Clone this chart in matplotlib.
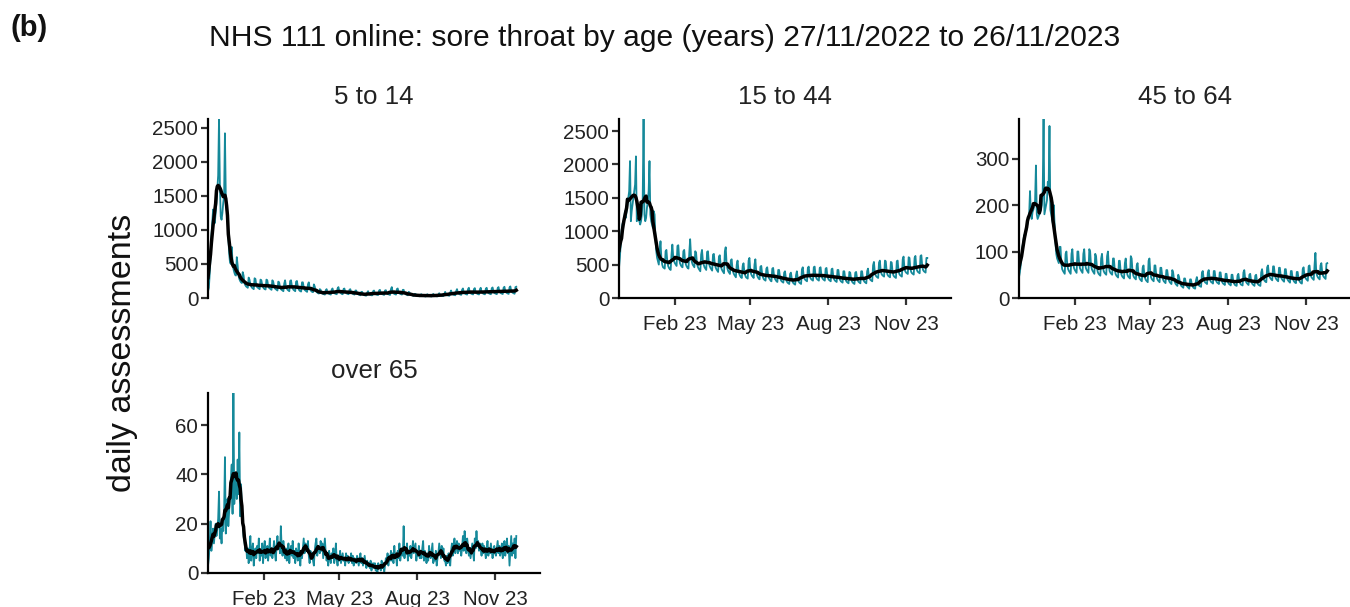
import matplotlib
matplotlib.use("Agg")
import matplotlib.pyplot as plt
import numpy as np
import pandas as pd

plt.rcParams['font.family'] = ['Liberation Sans', 'DejaVu Sans']

start_date = "2022-11-27"
end_date = "2023-11-26"
axis_end_date = "2023-12-24"

panel_titles = ["5 to 14", "15 to 44", "45 to 64", "over 65"]
tick_dates = ["2023-02-01", "2023-05-01", "2023-08-01", "2023-11-01"]
tick_labels = ["Feb 23", "May 23", "Aug 23", "Nov 23"]
yticks_5_14 = [0, 500, 1000, 1500, 2000, 2500]
yticks_15_44 = [0, 500, 1000, 1500, 2000, 2500]
yticks_45_64 = [0, 100, 200, 300]
yticks_over65 = [0, 20, 40, 60]

# daily assessments, one row per week (Sunday..Saturday)
age_5_14 = [
    100, 150, 350, 600, 900, 1100, 1300,
    1250, 1100, 1250, 1400, 1600, 1800, 2630,
    1700, 1200, 1150, 1250, 1400, 1500, 2420,
    1500, 1300, 1200, 900, 650, 520, 500,
    750, 520, 430, 380, 340, 330, 600,
    480, 330, 280, 250, 230, 220, 380,
    330, 220, 190, 170, 160, 150, 300,
    270, 200, 170, 150, 140, 130, 290,
    280, 190, 160, 150, 140, 130, 270,
    260, 190, 160, 140, 130, 125, 270,
    260, 180, 150, 140, 130, 120, 260,
    240, 170, 140, 130, 120, 110, 240,
    230, 160, 130, 120, 110, 100, 210,
    260, 170, 140, 120, 110, 100, 250,
    260, 180, 140, 120, 110, 100, 240,
    250, 170, 130, 110, 100, 95, 230,
    230, 160, 120, 110, 100, 90, 200,
    230, 150, 120, 100, 90, 85, 200,
    170, 110, 90, 80, 70, 65, 130,
    120, 80, 65, 60, 55, 50, 110,
    130, 85, 70, 60, 55, 50, 120,
    140, 90, 75, 65, 60, 55, 140,
    160, 100, 80, 70, 60, 55, 130,
    140, 95, 75, 65, 60, 55, 120,
    130, 85, 70, 60, 55, 50, 110,
    110, 75, 60, 50, 45, 40, 90,
    90, 60, 45, 40, 35, 35, 80,
    100, 65, 50, 45, 40, 40, 100,
    110, 70, 55, 50, 45, 45, 110,
    120, 75, 60, 55, 50, 45, 110,
    115, 75, 60, 55, 50, 45, 130,
    160, 90, 70, 60, 55, 50, 130,
    140, 85, 70, 60, 55, 50, 120,
    120, 75, 60, 50, 45, 40, 90,
    80, 55, 45, 40, 35, 30, 60,
    60, 40, 35, 30, 28, 25, 50,
    55, 38, 32, 28, 25, 22, 45,
    55, 38, 30, 28, 25, 22, 45,
    60, 40, 32, 28, 25, 24, 50,
    70, 45, 36, 32, 30, 28, 60,
    90, 55, 45, 40, 35, 32, 80,
    110, 70, 55, 48, 44, 40, 100,
    130, 80, 65, 55, 50, 46, 120,
    140, 85, 70, 60, 55, 50, 130,
    150, 90, 72, 62, 58, 52, 130,
    145, 88, 70, 62, 56, 52, 125,
    150, 90, 72, 64, 58, 54, 135,
    150, 92, 74, 66, 60, 55, 140,
    155, 95, 76, 68, 62, 56, 145,
    160, 98, 80, 70, 64, 58, 150,
    165, 100, 82, 72, 66, 60, 155,
    170, 105, 85, 75, 68, 62, 160,
    165,
]

age_15_44 = [
    450, 600, 800, 1000, 1100, 1150, 1150,
    1300, 1200, 1300, 1400, 1500, 1600, 2050,
    1150, 1300, 1400, 1500, 1600, 1700, 2120,
    1150, 1250, 1200, 1150, 1100, 1150, 1250,
    1500, 2680, 1250, 1150, 1200, 1350, 1450,
    1600, 2050, 1250, 1150, 1100, 1050, 1300,
    1250, 900, 700, 600, 550, 500, 700,
    850, 600, 500, 460, 450, 440, 700,
    720, 550, 480, 450, 430, 420, 650,
    800, 620, 550, 520, 500, 480, 780,
    790, 600, 520, 490, 470, 460, 700,
    720, 560, 500, 470, 450, 440, 680,
    880, 640, 540, 500, 480, 460, 700,
    680, 520, 470, 440, 420, 400, 650,
    720, 560, 500, 460, 440, 420, 690,
    700, 540, 480, 450, 430, 410, 650,
    660, 520, 460, 430, 410, 390, 620,
    640, 500, 440, 410, 390, 370, 700,
    760, 520, 440, 400, 380, 360, 560,
    580, 440, 380, 350, 330, 310, 500,
    560, 420, 360, 330, 310, 300, 480,
    520, 400, 340, 310, 300, 290, 560,
    600, 420, 360, 330, 320, 300, 500,
    580, 400, 340, 310, 290, 280, 470,
    480, 360, 310, 280, 270, 260, 440,
    460, 350, 300, 280, 260, 250, 440,
    450, 340, 290, 270, 250, 240, 420,
    420, 320, 270, 250, 240, 230, 380,
    400, 300, 250, 230, 220, 210, 360,
    380, 290, 240, 220, 210, 200, 340,
    400, 300, 250, 230, 220, 210, 430,
    460, 330, 290, 270, 260, 250, 450,
    470, 340, 300, 280, 270, 260, 460,
    470, 340, 300, 280, 270, 260, 450,
    460, 340, 300, 280, 270, 260, 440,
    450, 330, 290, 270, 260, 250, 430,
    440, 320, 280, 260, 250, 240, 420,
    420, 310, 270, 250, 240, 230, 400,
    400, 300, 260, 240, 230, 220, 390,
    380, 290, 250, 230, 220, 210, 380,
    390, 300, 260, 240, 230, 220, 400,
    400, 300, 260, 240, 230, 220, 400,
    440, 330, 290, 270, 260, 250, 490,
    540, 390, 340, 320, 310, 300, 530,
    560, 410, 360, 340, 330, 320, 560,
    550, 400, 350, 330, 320, 310, 540,
    530, 390, 340, 320, 310, 300, 550,
    560, 410, 360, 340, 330, 320, 580,
    620, 450, 400, 380, 370, 360, 610,
    600, 440, 390, 370, 360, 350, 600,
    630, 460, 410, 390, 380, 370, 630,
    640, 480, 420, 400, 390, 380, 600,
    600,
]

age_45_64 = [
    45, 55, 70, 90, 110, 120, 135,
    130, 140, 150, 160, 170, 180, 230,
    180, 170, 185, 190, 200, 210, 285,
    180, 170, 175, 180, 185, 190, 200,
    230, 385, 180, 190, 200, 210, 250,
    240, 370, 190, 180, 170, 160, 200,
    160, 120, 95, 85, 80, 75, 110,
    110, 75, 62, 58, 55, 52, 95,
    100, 72, 62, 58, 55, 52, 95,
    105, 75, 64, 60, 57, 54, 100,
    100, 74, 64, 60, 57, 54, 95,
    105, 75, 64, 60, 57, 54, 105,
    100, 72, 62, 58, 55, 52, 95,
    90, 65, 56, 52, 50, 48, 85,
    95, 68, 58, 54, 52, 50, 90,
    100, 70, 58, 54, 52, 50, 85,
    85, 62, 52, 48, 46, 44, 80,
    80, 58, 50, 46, 44, 42, 75,
    85, 60, 50, 46, 44, 42, 90,
    85, 58, 48, 44, 42, 40, 70,
    75, 52, 44, 40, 38, 36, 65,
    70, 50, 42, 38, 36, 34, 80,
    85, 55, 44, 40, 38, 36, 70,
    70, 50, 42, 38, 36, 34, 65,
    65, 48, 40, 36, 34, 32, 60,
    60, 45, 38, 34, 32, 30, 60,
    55, 40, 34, 30, 28, 26, 50,
    45, 34, 28, 25, 24, 22, 42,
    42, 32, 26, 24, 22, 20, 40,
    40, 30, 25, 22, 21, 20, 38,
    45, 34, 28, 26, 25, 24, 55,
    58, 42, 36, 33, 32, 30, 55,
    60, 44, 37, 34, 33, 31, 58,
    58, 42, 36, 33, 32, 30, 55,
    55, 40, 34, 31, 30, 28, 52,
    52, 38, 33, 30, 29, 27, 50,
    50, 36, 31, 28, 27, 26, 48,
    52, 38, 32, 29, 28, 27, 55,
    60, 42, 35, 32, 30, 28, 50,
    52, 38, 32, 29, 28, 26, 48,
    50, 36, 30, 28, 27, 26, 55,
    62, 46, 40, 37, 35, 34, 66,
    70, 52, 45, 42, 40, 38, 68,
    68, 50, 43, 40, 38, 36, 65,
    65, 48, 42, 39, 37, 35, 62,
    62, 46, 40, 37, 35, 33, 58,
    58, 43, 38, 35, 33, 32, 56,
    56, 42, 37, 34, 32, 31, 62,
    66, 50, 44, 41, 39, 37, 68,
    70, 52, 46, 43, 41, 39, 72,
    97, 55, 48, 44, 42, 40, 70,
    75, 55, 48, 45, 43, 41, 74,
    75,
]

age_over_65 = [
    3, 6, 12, 21, 9, 14, 18,
    12, 16, 20, 15, 18, 22, 33,
    14, 18, 12, 20, 17, 24, 47,
    16, 24, 30, 19, 25, 33, 38,
    44, 24, 73, 28, 35, 40, 30,
    46, 32, 57, 23, 36, 26, 20,
    15, 13, 9, 12, 6, 10, 4,
    8, 15, 5, 9, 12, 3, 7,
    10, 6, 11, 8, 14, 5, 9,
    7, 12, 4, 10, 13, 6, 8,
    11, 5, 9, 14, 7, 10, 6,
    9, 13, 8, 5, 11, 15, 10,
    12, 8, 19, 10, 7, 13, 9,
    6, 10, 5, 8, 12, 4, 9,
    11, 7, 13, 6, 9, 4, 10,
    8, 5, 12, 7, 3, 9, 6,
    10, 14, 8, 12, 11, 9, 13,
    7, 4, 9, 6, 8, 5, 3,
    9, 12, 14, 7, 11, 10, 8,
    13, 9, 12, 6, 10, 14, 8,
    5, 7, 3, 9, 6, 4, 8,
    6, 10, 4, 7, 12, 5, 3,
    7, 5, 9, 4, 6, 8, 5,
    6, 3, 8, 5, 7, 4, 6,
    5, 8, 4, 7, 3, 6, 5,
    4, 7, 5, 3, 6, 8, 4,
    6, 3, 5, 7, 4, 2, 5,
    3, 4, 2, 5, 1, 3, 4,
    2, 4, 1, 3, 0, 4, 2,
    3, 1, 5, 2, 4, 0, 3,
    6, 4, 8, 3, 7, 5, 9,
    5, 8, 4, 11, 6, 7, 3,
    9, 6, 12, 5, 8, 10, 7,
    19, 6, 10, 8, 12, 5, 9,
    7, 11, 6, 9, 13, 8, 10,
    12, 5, 9, 7, 11, 6, 8,
    6, 10, 13, 5, 9, 7, 4,
    8, 5, 11, 7, 6, 9, 12,
    4, 7, 5, 9, 3, 6, 8,
    12, 9, 6, 11, 7, 10, 5,
    5, 3, 7, 4, 8, 6, 3,
    9, 12, 7, 10, 14, 8, 11,
    13, 8, 12, 9, 11, 7, 10,
    15, 9, 17, 12, 8, 14, 11,
    7, 10, 6, 9, 12, 8, 5,
    14, 10, 17, 11, 13, 9, 12,
    10, 7, 12, 8, 11, 9, 6,
    9, 13, 7, 10, 8, 12, 9,
    6, 9, 11, 8, 7, 10, 13,
    8, 11, 7, 9, 12, 6, 10,
    13, 7, 10, 14, 8, 11, 3,
    9, 15, 7, 12, 8, 14, 6,
    15,
]

series = [age_5_14, age_15_44, age_45_64, age_over_65]
yticks = [yticks_5_14, yticks_15_44, yticks_45_64, yticks_over65]

dates = pd.date_range(start_date, end_date, freq="D")

TEAL = "#15899A"
W, H = 1350, 607
fig = plt.figure(figsize=(W / 100, H / 100), dpi=100)

def frac(x0, ytop, x1, ybot):
    return [x0 / W, 1 - ybot / H, (x1 - x0) / W, (ybot - ytop) / H]

rects = [
    frac(208, 119, 540, 298),
    frac(619, 119, 951, 298),
    frac(1019, 119, 1351, 298),
    frac(208, 393, 540, 573),
]
show_x = [False, True, True, True]

TICK_FS = 14.8
for i in range(4):
    ax = fig.add_axes(rects[i])
    s = pd.Series(series[i], index=dates, dtype=float)
    avg = s.rolling(7, center=True, min_periods=1).mean()
    ax.plot(s.index, s.values, color=TEAL, lw=1.3, zorder=2)
    ax.plot(avg.index, avg.values, color="black", lw=2.5, zorder=3)
    ax.set_xlim(pd.Timestamp(start_date), pd.Timestamp(axis_end_date))
    ax.set_ylim(0, s.max())
    ax.set_yticks(yticks[i])
    ax.set_yticklabels([str(v) for v in yticks[i]])
    for sp in ["top", "right"]:
        ax.spines[sp].set_visible(False)
    ax.spines["left"].set_linewidth(1.6)
    ax.spines["bottom"].set_linewidth(1.6)
    ax.tick_params(axis="both", direction="out", length=5, width=1.6,
                   color="#333333", labelsize=TICK_FS, labelcolor="#222222")
    ax.tick_params(axis="y", pad=2)
    ax.tick_params(axis="x", pad=7)
    ax.set_xticks(pd.to_datetime(tick_dates))
    if show_x[i]:
        ax.set_xticklabels(tick_labels)
    else:
        ax.spines["bottom"].set_visible(False)
        ax.tick_params(axis="x", length=0, labelbottom=False)
    ax.set_title(panel_titles[i], fontsize=18.6, color="#222222", pad=11)
    ax.patch.set_alpha(0)

fig.text(665 / W, 1 - 38 / H, "NHS 111 online: sore throat by age (years) 27/11/2022 to 26/11/2023",
         ha="center", va="center", fontsize=21.6, color="#111111")
fig.text(10 / W, 1 - 28 / H, "(b)", ha="left", va="center", fontsize=21,
         fontweight="bold", color="#111111")
fig.text(123 / W, 1 - 353 / H, "daily assessments", ha="center", va="center",
         rotation=90, fontsize=24.5, color="#111111")

fig.savefig("out.png", dpi=100)
